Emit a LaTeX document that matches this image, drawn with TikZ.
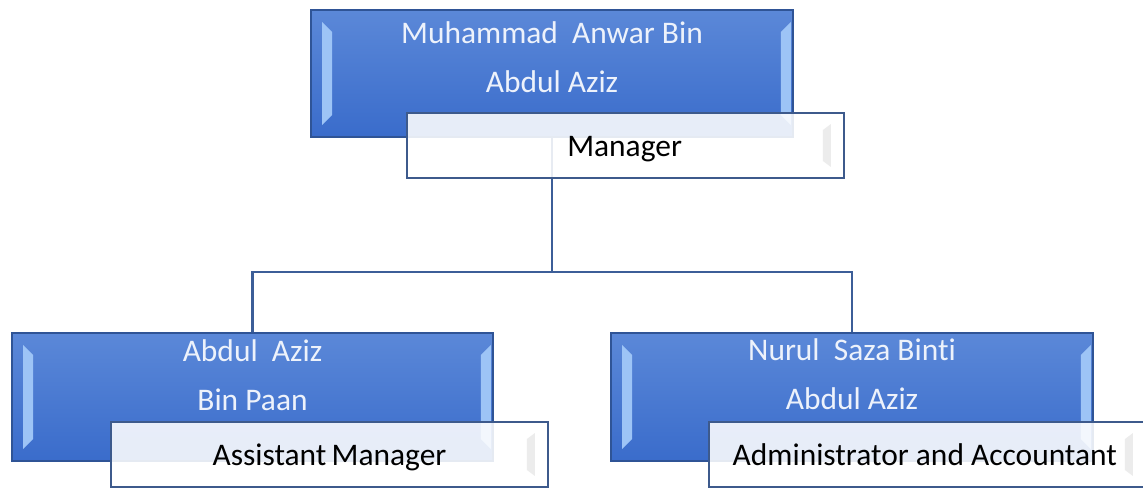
\documentclass[tikz,border=0pt]{standalone}
\usepackage{fontspec}
\setmainfont{Carlito}[Ligatures=NoCommon]
\usetikzlibrary{calc}

\definecolor{azultopo}{HTML}{5B88D8}
\definecolor{azulbase}{HTML}{3A6CCB}
\definecolor{bordaazul}{HTML}{2F5496}
\definecolor{biselazul}{HTML}{9DC4F6}
\definecolor{textoazul}{HTML}{EDF2FB}
\definecolor{bordacargo}{HTML}{3D5A8C}
\definecolor{linhaazul}{HTML}{3C5E98}

% bisel das caixas azuis
\newcommand{\bisel}[1]{
  \fill[biselazul] ($(#1.north west)+(12,13)$) -- ($(#1.south west)+(12,-13)$)
    -- ($(#1.south west)+(22,-23)$) -- ($(#1.north west)+(22,23)$) -- cycle;
  \fill[biselazul] ($(#1.north east)+(-3,13)$) -- ($(#1.south east)+(-3,-13)$)
    -- ($(#1.south east)+(-13,-23)$) -- ($(#1.north east)+(-13,23)$) -- cycle;
}
% bisel das caixas brancas
\newcommand{\biselcargo}[1]{
  \fill[gray!15] ($(#1.north east)+(-14,12)$) -- ($(#1.south east)+(-14,-12)$)
    -- ($(#1.south east)+(-22,-18)$) -- ($(#1.north east)+(-22,18)$) -- cycle;
}

\begin{document}
\begin{tikzpicture}[x=0.02cm, y=-0.02cm,
  caixa/.style={draw=bordaazul, line width=1.1pt, top color=azultopo, bottom color=azulbase,
    minimum width=9.64cm, minimum height=2.56cm, inner sep=0pt},
  nome/.style={text=textoazul, align=center, font=\fontsize{17.9}{27.9}\selectfont},
  cargo/.style={draw=bordacargo, line width=1.1pt, fill=white, fill opacity=0.88, text opacity=1,
    minimum width=8.74cm, minimum height=1.3cm, inner sep=0pt, text height=13pt, text depth=0.8pt,
    font=\fontsize{17.9}{21}\selectfont},
  ligacao/.style={draw=linhaazul, line width=1.2pt}]
\clip (0,0) rectangle (1143,488);

%chefe
\node[caixa, minimum height=2.54cm] (chefe) at (552,73.5) {};
\bisel{chefe}
\node[nome] (chefenome) at (552,57.5) {Muhammad\ \ Anwar Bin\\Abdul Aziz};

%assistente
\node[caixa, minimum width=9.62cm] (aziz) at (252.5,397) {};
\bisel{aziz}
\node[nome] (aziznome) at (252.5,375) {Abdul\ \ Aziz\\Bin Paan};

%administradora
\node[caixa] (nurul) at (852,397) {};
\bisel{nurul}
\node[nome] (nurulnome) at (852,374) {Nurul\ \ Saza Binti\\Abdul Aziz};

%ligacoes
\coordinate (divisao) at (552,272);
\draw[ligacao] (chefe.south) -- (divisao);
\draw[ligacao] (divisao) -| (aziz.north);
\draw[ligacao] (divisao) -| (nurul.north);

%cargos
\node[cargo] (gerente) at (625.5,145.5) {\hspace*{-1pt}Manager};
\biselcargo{gerente}
\node[cargo] (assistente) at (329.5,454.5) {Assistant\,Manager};
\biselcargo{assistente}
\node[cargo] (administradora) at (927.5,454.5) {\hspace*{-3pt}Administrator and Accountant};
\biselcargo{administradora}

\end{tikzpicture}
\end{document}
